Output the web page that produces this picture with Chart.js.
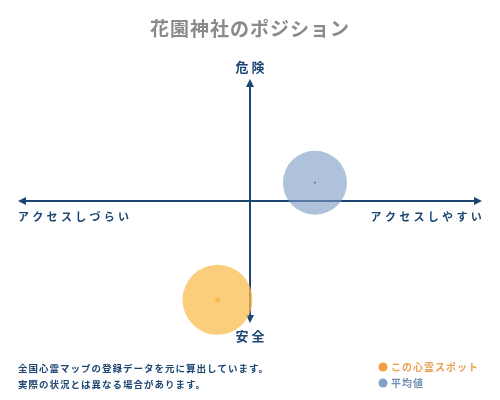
<!DOCTYPE html>
<html>
<head>
<meta charset="utf-8">
<script src="https://cdn.jsdelivr.net/npm/chart.js@4"></script>
<style>
  html, body { margin: 0; padding: 0; background: #fff; }
  #wrap { width: 500px; height: 400px; }
</style>
</head>
<body>
<div id="wrap"><canvas id="positionChart" width="500" height="400"></canvas></div>
<script>
// Position map data
const titleText = '花園神社のポジション';
const axisTop = '危 険';
const axisBottom = '安 全';
const axisLeft = 'アクセスしづらい';
const axisRight = 'アクセスしやすい';
const seriesNames = ['この心霊スポット', '平均値'];
const spotPoint = [{ x: -14, y: -81, r: 35 }];
const averagePoint = [{ x: 28, y: 15, r: 32 }];
const noteLines = ['全国心霊マップの登録データを元に算出しています。', '実際の状況とは異なる場合があります。'];

const navy = '#1d4673';
const fontFamily = '"Noto Sans CJK JP", "Noto Sans", sans-serif';

// Draw cross axes, labels and notes
const axesPlugin = {
    id: 'crossAxes',
    beforeDatasetsDraw(chart) {
        const ctx = chart.ctx;
        const a = chart.chartArea;
        const cx = chart.scales.x.getPixelForValue(0);
        const cy = chart.scales.y.getPixelForValue(0);
        ctx.save();
        ctx.strokeStyle = navy;
        ctx.fillStyle = navy;
        ctx.lineWidth = 2;
        ctx.beginPath();
        ctx.moveTo(a.left + 4, cy);
        ctx.lineTo(a.right - 4, cy);
        ctx.moveTo(cx, a.top + 4);
        ctx.lineTo(cx, a.bottom - 4);
        ctx.stroke();
        // arrow heads
        const head = (x, y, dx, dy) => {
            const px = -dy, py = dx;
            ctx.beginPath();
            ctx.moveTo(x, y);
            ctx.lineTo(x - dx * 8 + px * 4, y - dy * 8 + py * 4);
            ctx.lineTo(x - dx * 8 - px * 4, y - dy * 8 - py * 4);
            ctx.closePath();
            ctx.fill();
        };
        head(a.left, cy, -1, 0);
        head(a.right, cy, 1, 0);
        head(cx, a.top, 0, -1);
        head(cx, a.bottom, 0, 1);
        ctx.restore();
    },
    afterDraw(chart) {
        const ctx = chart.ctx;
        const a = chart.chartArea;
        const cx = chart.scales.x.getPixelForValue(0);
        const cy = chart.scales.y.getPixelForValue(0);
        ctx.save();
        ctx.textBaseline = 'middle';

        // title
        ctx.fillStyle = '#8a8a8a';
        ctx.font = 'bold 19px ' + fontFamily;
        ctx.textAlign = 'center';
        ctx.letterSpacing = '1px';
        ctx.fillText(titleText, 250, 29);

        // axis labels
        ctx.fillStyle = navy;
        ctx.font = 'bold 13px ' + fontFamily;
        ctx.letterSpacing = '0px';
        ctx.fillText(axisTop, cx, a.top - 12);
        ctx.fillText(axisBottom, cx, a.bottom + 13);
        ctx.font = 'bold 11px ' + fontFamily;
        ctx.textAlign = 'left';
        ctx.letterSpacing = '3.3px';
        ctx.fillText(axisLeft, a.left, cy + 16);
        ctx.textAlign = 'right';
        ctx.fillText(axisRight, a.right + 3, cy + 16);

        // notes
        ctx.letterSpacing = '1px';
        ctx.font = 'bold 9.5px ' + fontFamily;
        ctx.textAlign = 'left';
        noteLines.forEach((line, i) => ctx.fillText(line, 18, 368 + i * 16));

        // legend
        const colors = ['#f0a040', '#7fa3c8'];
        seriesNames.forEach((name, i) => {
            const y = 367 + i * 16;
            ctx.fillStyle = colors[i];
            ctx.beginPath();
            ctx.arc(383, y, 4.5, 0, Math.PI * 2);
            ctx.fill();
            ctx.fillStyle = i === 0 ? '#e8a050' : '#6f8fb5';
            ctx.font = 'bold 10px ' + fontFamily;
            ctx.fillText(name, 391, y);
        });
        ctx.restore();
    }
};

new Chart(document.getElementById('positionChart').getContext('2d'), {
    type: 'bubble',
    data: {
        datasets: [{
            label: seriesNames[0],
            data: spotPoint,
            backgroundColor: 'rgba(250, 190, 80, 0.75)',
            borderWidth: 0,
            clip: false
        }, {
            label: seriesNames[1],
            data: averagePoint,
            backgroundColor: 'rgba(120, 155, 195, 0.6)',
            borderWidth: 0,
            clip: false
        }, {
            type: 'scatter',
            data: spotPoint.map(p => ({ x: p.x, y: p.y })),
            pointStyle: 'star',
            pointRadius: 3,
            borderColor: '#f0a020',
            backgroundColor: '#f0a020',
            borderWidth: 1,
            clip: false
        }, {
            type: 'scatter',
            data: averagePoint.map(p => ({ x: p.x, y: p.y })),
            pointRadius: 1,
            backgroundColor: '#1d3550',
            borderWidth: 0,
            clip: false
        }]
    },
    options: {
        responsive: false,
        animation: false,
        layout: { autoPadding: false, padding: { left: 18, right: 18, top: 79, bottom: 77 } },
        scales: {
            x: { min: -100, max: 100, display: false },
            y: { min: -100, max: 100, display: false }
        },
        plugins: {
            legend: { display: false },
            tooltip: { enabled: false }
        }
    },
    plugins: [axesPlugin]
});
</script>
</body>
</html>
